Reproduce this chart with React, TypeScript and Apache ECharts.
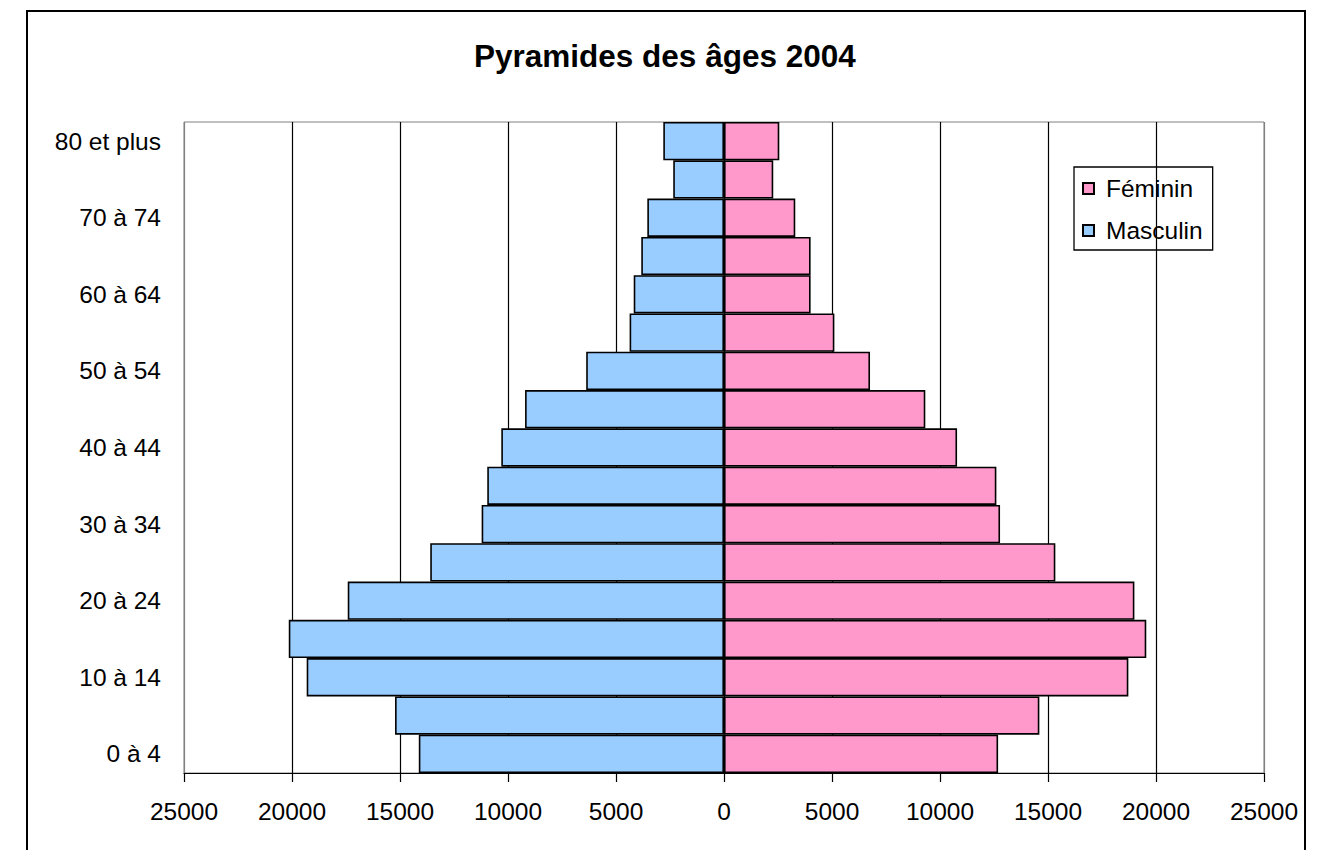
import React, { useEffect, useRef } from "react";
import * as echarts from "echarts";

const categories = [
  "0 à 4", "5 à 9", "10 à 14", "15 à 19", "20 à 24", "25 à 29", "30 à 34",
  "35 à 39", "40 à 44", "45 à 49", "50 à 54", "55 à 59", "60 à 64",
  "65 à 69", "70 à 74", "75 à 79", "80 et plus",
];
const masculin = [
  14130, 15230, 19320, 20150, 17420, 13600, 11220, 10960, 10310, 9210,
  6380, 4370, 4180, 3830, 3550, 2350, 2810,
];
const feminin = [
  12690, 14600, 18720, 19550, 19000, 15340, 12780, 12610, 10790, 9320,
  6760, 5110, 4010, 4010, 3300, 2280, 2560,
];
const title = "Pyramides des âges 2004";
const FONT = "'Liberation Sans', Arial, sans-serif";

export default function App() {
  const ref = useRef<HTMLDivElement>(null);
  useEffect(() => {
    if (!ref.current) return;
    const chart = echarts.init(ref.current, null, { renderer: "svg" });
    const splitColors = ["#808080", "#000", "#000", "#000", "#000", "#000", "#000", "#000", "#000", "#000", "#808080"];
    chart.setOption({
      animation: false,
      backgroundColor: "#fff",
      textStyle: { fontFamily: FONT },
      title: {
        text: title,
        left: 474,
        top: 40,
        padding: 0,
        textStyle: { fontFamily: FONT, fontSize: 31.5, fontWeight: "bold", color: "#000" },
      },
      graphic: [
        {
          type: "rect",
          shape: { x: 27, y: 11, width: 1278, height: 900 },
          style: { fill: "none", stroke: "#000", lineWidth: 2 },
          silent: true,
          z: -1,
        },
      ],
      legend: {
        data: ["Féminin", "Masculin"],
        orient: "vertical",
        left: 1074,
        top: 167,
        padding: [9, 10, 7, 8],
        itemGap: 17,
        itemWidth: 11,
        itemHeight: 11,
        icon: "rect",
        borderColor: "#000",
        borderWidth: 1.3,
        textStyle: { fontFamily: FONT, fontSize: 24.5, color: "#000", padding: [0, 0, 0, 7] },
      },
      grid: {
        left: 184,
        right: 55,
        top: 122,
        bottom: 77,
        show: true,
        borderColor: "#808080",
        borderWidth: 1,
        containLabel: false,
      },
      xAxis: {
        type: "value",
        min: -25000,
        max: 25000,
        interval: 5000,
        axisLine: { show: true, lineStyle: { color: "#000", width: 1.2 } },
        axisTick: { show: true, length: 9, lineStyle: { color: "#000", width: 1.2 } },
        axisLabel: {
          margin: 26,
          fontFamily: FONT,
          fontSize: 24.5,
          color: "#000",
          formatter: (v: number) => String(Math.abs(v)),
        },
        splitLine: { show: true, lineStyle: { color: splitColors, width: 1.2 } },
      },
      yAxis: {
        type: "category",
        data: categories,
        axisLine: { show: false },
        axisTick: { show: false },
        axisLabel: {
          interval: 1,
          margin: 23,
          fontFamily: FONT,
          fontSize: 24.5,
          color: "#000",
        },
        splitLine: { show: false },
      },
      series: [
        {
          name: "Masculin",
          type: "bar",
          data: masculin.map((v) => -v),
          barGap: "-100%",
          barCategoryGap: 0,
          itemStyle: { color: "#99CCFF", borderColor: "#000", borderWidth: 1.6 },
        },
        {
          name: "Féminin",
          type: "bar",
          data: feminin,
          barGap: "-100%",
          barCategoryGap: 0,
          itemStyle: { color: "#FF99CC", borderColor: "#000", borderWidth: 1.6 },
        },
      ],
    });
    return () => chart.dispose();
  }, []);
  return (
    <div
      ref={ref}
      style={{ position: "fixed", left: 0, top: 0, width: 1319, height: 850 }}
    />
  );
}
